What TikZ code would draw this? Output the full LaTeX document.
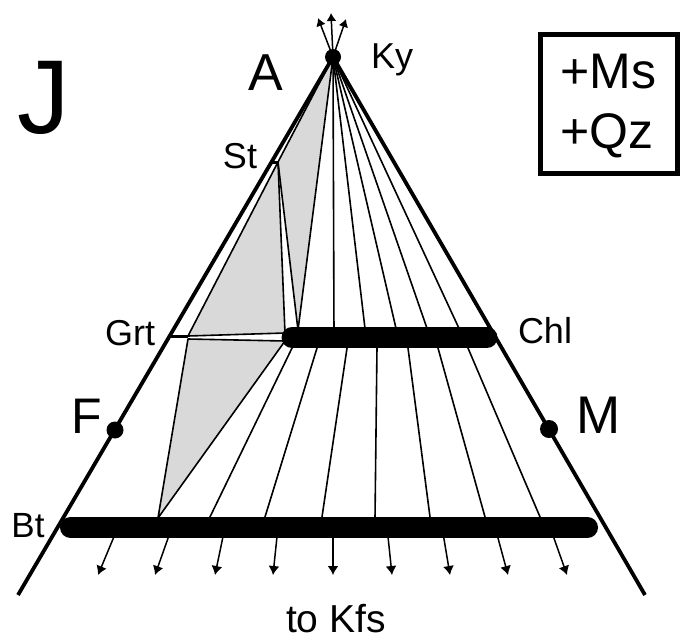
\documentclass[tikz,border=0pt]{standalone}
\usepackage{fontspec}
\setmainfont{Liberation Sans}
\usetikzlibrary{arrows.meta}
\begin{document}
\begin{tikzpicture}[x=1pt,y=-1pt,
  edgeline/.style={line width=3.8pt,line join=round},
  tieline/.style={line width=1.6pt,line join=round},
  shadefill/.style={fill=black!15},
  barline/.style={line width=21pt,line cap=round},
  arr/.style={line width=1.5pt,-{Latex[length=9pt,width=11pt]}},
  tickline/.style={line width=3pt},
  lbl/.style={anchor=base,inner sep=0pt},
  fs/.style={font=\fontsize{#1}{#1}\selectfont}
]
\useasboundingbox (0,0) rectangle (684,640);
% key points
\coordinate (K) at (333,57);
\coordinate (St) at (278,162);
\coordinate (StE) at (271,162);
\coordinate (Grt) at (188,336);
\coordinate (GrtE) at (168,336);
\coordinate (Grt2) at (188,339);
\coordinate (P) at (298,330);
\coordinate (Qu) at (285,333);
\coordinate (Ql) at (285,341);
\coordinate (R) at (158,518);
\coordinate (Fd) at (115,430);
\coordinate (Md) at (549,429);
\coordinate (BL) at (18,595);
\coordinate (BR) at (645,595);
% shaded fields
\fill[shadefill] (K) -- (St) -- (P) -- cycle;
\fill[shadefill] (St) -- (Grt) -- (Qu) -- cycle;
\fill[shadefill] (Grt2) -- (Ql) -- (R) -- cycle;
% tie lines of shaded fields
\draw[tieline] (K) -- (St) -- (P) -- cycle;
\draw[tieline] (St) -- (Grt) -- (Qu) -- cycle;
\draw[tieline] (Grt2) -- (Ql) -- (R) -- cycle;
% Ky rays to Chl
\foreach \x [count=\i] in {334,366,398,430,463}{
  \coordinate (c\i) at (\x,337);
  \draw[tieline] (K) -- (c\i);
}
% Chl - Bt tie lines
\foreach \a/\b [count=\i] in {296.9/205.1,320.1/261.9,348.5/320.5,377.1/374.9,406.7/431.3,435.2/487.8,463.7/544.3}{
  \coordinate (u\i) at (\a,338);
  \coordinate (v\i) at (\b,527);
  \draw[tieline] (u\i) -- (v\i);
}
% arrows to Kfs
\foreach \a/\b [count=\i] in {118/98,172/155,225/215,278/273,333/333,387/392,442/450,495/508,550/567}{
  \coordinate (s\i) at (\a,527);
  \coordinate (t\i) at (\b,575);
  \draw[arr] (s\i) -- (t\i);
}
% ticks
\draw[tickline] (StE) -- (St);
\draw[tickline] (GrtE) -- (Grt);
% bars
\coordinate (ChlA) at (292,337.5);
\coordinate (ChlB) at (487,337.5);
\coordinate (BtA) at (70.5,527.5);
\coordinate (BtB) at (587.5,527.5);
\draw[barline] (ChlA) -- (ChlB);
\draw[barline] (BtA) -- (BtB);
% triangle sides
\draw[edgeline] (BL) -- (K) -- (BR);
% dots
\fill (K) circle[radius=8pt];
\fill (Fd) circle[radius=8.5pt];
\fill (Md) circle[radius=9pt];
% arrows from Ky
\coordinate (a1) at (318,18);
\coordinate (a2) at (331,13);
\coordinate (a3) at (346,19);
\foreach \i in {1,2,3}{\draw[line width=1.5pt,-{Latex[length=8pt,width=10pt]}] (K) -- (a\i);}
% box
\draw[line width=5pt] (540,34) rectangle (677,173);
% labels
\node[lbl,anchor=base west,fs=105] (J) at (17,133) {J};
\node[lbl,fs=52] (Alab) at (266,90) {A};
\node[lbl,anchor=base west,fs=36] (Kylab) at (371,68) {Ky};
\node[lbl,fs=36] (Stlab) at (240,168) {St};
\node[lbl,fs=36] (Grtlab) at (130,345) {Grt};
\node[lbl,fs=36] (Chllab) at (545,343) {Chl};
\node[lbl,fs=50] (Flab) at (87,433) {F};
\node[lbl,fs=53] (Mlab) at (599,433) {M};
\node[lbl,fs=35] (Btlab) at (28,537) {Bt};
\node[lbl,fs=39] (Kfs) at (336,632) {to Kfs};
\node[lbl,anchor=base west,fs=50] (Ms) at (560,88) {+Ms};
\node[lbl,anchor=base west,fs=50] (Qz) at (560,148) {+Qz};
\end{tikzpicture}
\end{document}
